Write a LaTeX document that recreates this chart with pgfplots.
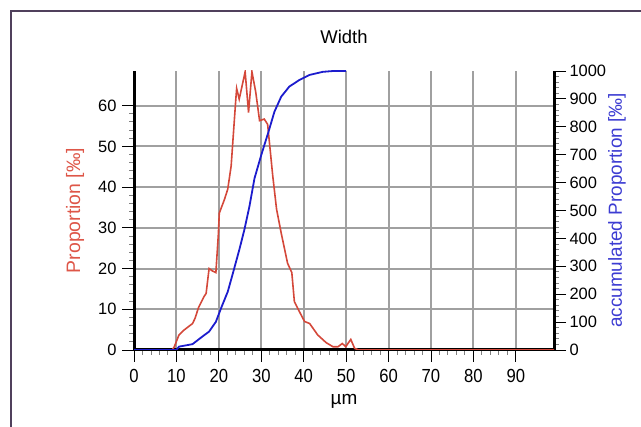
\documentclass[border=0pt]{standalone}
\usepackage{fontspec}
\setmainfont{Liberation Sans}
\newfontfamily\narrowfont{Liberation Sans}[FakeStretch=0.88]
\usepackage{pgfplots}
\pgfplotsset{compat=1.18}
\definecolor{redline}{RGB}{212,72,58}
\definecolor{redlab}{RGB}{222,86,72}
\definecolor{blueline}{RGB}{28,28,205}
\definecolor{bluelab}{RGB}{60,60,210}
\definecolor{framec}{RGB}{80,64,92}
\definecolor{gridc}{RGB}{160,160,160}
\begin{document}
\begin{tikzpicture}
\pgfplotsset{
  base/.style={
    set layers,
    scale only axis, width=420bp, height=279bp,
    at={(134bp,77bp)}, anchor=south west,
    xmin=0, xmax=99,
    tick align=outside,
    major tick length=12bp, minor tick length=5bp,
    every tick/.style={black, line width=0.9bp},
    every minor tick/.style={gray, line width=0.9bp},
    every outer x axis line/.append style={black, line width=3bp},
    every outer y axis line/.append style={black, line width=3bp},
    x axis line style={black, line width=3bp},
    y axis line style={black, line width=3bp},
    yticklabel style={font=\fontsize{16.5}{16.5}\selectfont},
    xticklabel style={font=\narrowfont\fontsize{19}{19}\selectfont, yshift=-4bp},
    /pgf/number format/assume math mode=true,
    /pgf/number format/1000 sep={},
  }
}
\begin{axis}[base,
  ymin=0, ymax=68.5,
  axis x line*=bottom, axis y line*=left,
  xtick={0,10,...,90}, ytick={0,10,...,60},
  minor x tick num=4, minor y tick num=4,
  yticklabel style={xshift=-2bp},
  grid=major, major grid style={gridc, line width=2bp},
  title={Width},
  title style={font=\fontsize{18.5}{18.5}\selectfont, at={(rel axis cs:0.5,1.1)}, anchor=center},
  xlabel={µm},
  xlabel style={font=\fontsize{19}{19}\selectfont, at={(rel axis cs:0.5,-0.185)}, anchor=center},
  ylabel={Proportion [‰]},
  ylabel style={font=\fontsize{19.5}{19.5}\selectfont, color=redlab, at={(rel axis cs:-0.14,0.5)}, anchor=center, rotate=0},
]
\addplot[redline, line width=1.6bp] coordinates {
(0,0) (9,0) (9.5,0.8) (10.6,3.7) (11.8,4.9) (13.8,6.5) (14.4,7.8) (15.2,10.4)
(16.5,13.1) (17.0,13.9) (17.7,20) (18.5,19.4) (19.3,19) (19.9,28.7) (20.1,33.6)
(21.3,36.9) (22.1,39.5) (22.9,45.2) (24.0,61.6) (24.2,64.2) (24.8,61.6)
(26.2,68.3) (27.0,58.3) (27.8,68.3) (28.7,63.3) (29.6,56.3) (30.7,56.7)
(31.5,55.4) (32.7,42.8) (33.6,34.6) (34.7,28.7) (36.2,21.3) (37.2,19.0)
(37.8,11.9) (38.8,9.8) (40.2,7.0) (41.4,6.5) (43.3,3.7) (45.3,1.8) (46.9,0.8)
(48.1,0.8) (49.1,1.6) (49.9,0.8) (51.1,2.6) (52.0,0.4) (53,0) (99,0)
};
\end{axis}
\begin{axis}[base,
  ymin=0, ymax=1000,
  axis x line=none, axis y line*=right,
  ytick={0,100,...,1000}, minor y tick num=4,
  ylabel={accumulated Proportion [‰]},
  ylabel style={font=\fontsize{19}{19}\selectfont, color=bluelab, at={(rel axis cs:1.15,0.5)}, anchor=center, rotate=0},
]
\addplot[blueline, line width=1.8bp] coordinates {
(0,0) (10,0) (10.6,12) (13.8,21) (16.1,48) (17.7,66) (19.3,101) (20.5,149)
(22.1,209) (23.2,269) (24.8,358) (26.0,430) (27.2,514) (28.4,615) (30.0,699)
(31.7,782) (33.1,854) (34.7,908) (36.6,944) (39.0,968) (41.4,986) (44.5,997)
(47,1000) (50,1000)
};
\end{axis}
\begin{scope}
\clip (0,0) rectangle (641bp,427bp);
\draw[line width=2bp, color=framec] (11bp,-20bp) rectangle (700bp,416bp);
\end{scope}
\pgfresetboundingbox
\useasboundingbox (0,0) rectangle (641bp,427bp);
\end{tikzpicture}
\end{document}
